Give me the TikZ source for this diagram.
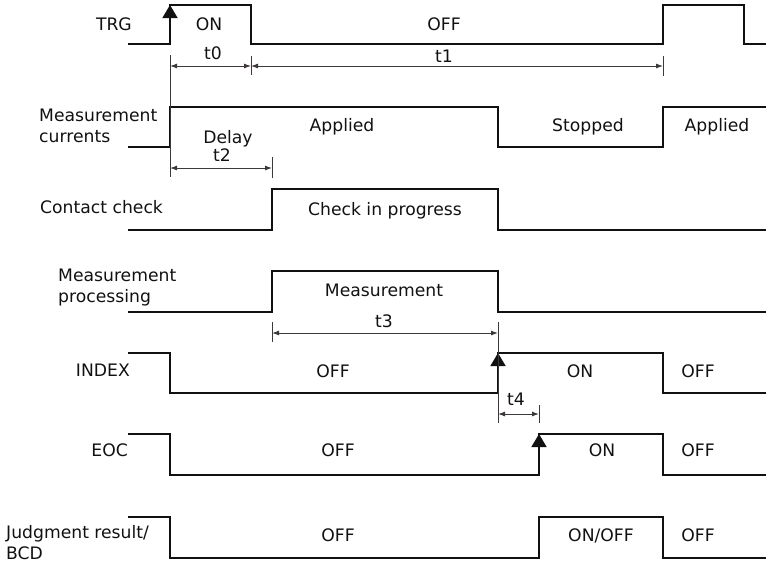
\documentclass[tikz,border=0pt]{standalone}
\usepackage{fontspec}
\setmainfont{DejaVu Sans}
\usetikzlibrary{arrows.meta}
\definecolor{ink}{HTML}{111111}
\definecolor{dimgray}{HTML}{3F3838}
\tikzset{
  >=Latex,
  every node/.style={font=\fontsize{17.2}{21}\selectfont,text=ink,inner sep=0pt},
  signal/.style={line width=1.7pt,draw=ink,line join=miter},
  risearr/.style={line width=1.7pt,draw=ink,-{Triangle[length=13pt,width=15pt]}},
  guide/.style={line width=0.9pt,draw=dimgray},
  dimarr/.style={<->,line width=0.9pt,draw=dimgray,>={Latex[length=7pt,width=5pt]}},
  signame/.style={align=left},
  state/.style={anchor=base},
}

\begin{document}
\begin{tikzpicture}[x=1pt,y=-1pt]
\useasboundingbox (0,0) rectangle (766,563);

% signal names
\node[signame,anchor=base east] (trgname) at (132,30) {TRG};
\node[signame,anchor=west] (curname) at (39,126) {Measurement\\currents};
\node[signame,anchor=base west] (ccname) at (40,213) {Contact check};
\node[signame,anchor=west] (procname) at (58,288) {Measurement\\processing};
\node[signame,anchor=base east] (indexname) at (130,376) {INDEX};
\node[signame,anchor=base east] (eocname) at (128,456) {EOC};
\node[signame,anchor=west] (bcdname) at (6,543) {Judgment result/\\BCD};

% TRG
\draw[signal] (128,44) -- (170,44) -- (170,5) -- (251,5) -- (251,44) -- (663,44) -- (663,5) -- (744,5) -- (744,44) -- (766,44);
\draw[risearr] (170,44) -- (170,5);
\node[state] (trgon) at (209,30) {ON};
\node[state] (trgoff) at (444,30) {OFF};

% measurement currents
\draw[signal] (128,147) -- (170,147) -- (170,107) -- (498,107) -- (498,147) -- (663,147) -- (663,107) -- (766,107);
\node[state] (applied) at (342,131) {Applied};
\node[state] (stopped) at (588,131) {Stopped};
\node[state] (applied2) at (717,131) {Applied};
\node[state] (delay) at (228,143) {Delay};

% contact check
\draw[signal] (128,230) -- (272,230) -- (272,189) -- (498,189) -- (498,230) -- (766,230);
\node[state] (checking) at (385,215) {Check in progress};

% measurement processing
\draw[signal] (128,312) -- (272,312) -- (272,271) -- (498,271) -- (498,312) -- (766,312);
\node[state] (measuring) at (384,296) {Measurement};

% INDEX
\draw[signal] (128,353) -- (170,353) -- (170,393) -- (498,393) -- (498,353) -- (663,353) -- (663,393) -- (766,393);
\draw[risearr] (498,393) -- (498,353);
\node[state] (indexoff) at (333,377) {OFF};
\node[state] (indexon) at (580,377) {ON};
\node[state] (indexoff2) at (698,377) {OFF};

% EOC
\draw[signal] (128,434) -- (170,434) -- (170,475) -- (539,475) -- (539,434) -- (663,434) -- (663,475) -- (766,475);
\draw[risearr] (539,475) -- (539,434);
\node[state] (eocoff) at (338,456) {OFF};
\node[state] (eocon) at (602,456) {ON};
\node[state] (eocoff2) at (698,456) {OFF};

% judgment result / BCD
\draw[signal] (128,517) -- (170,517) -- (170,558) -- (539,558) -- (539,517) -- (663,517) -- (663,558) -- (766,558);
\node[state] (bcdoff) at (338,541) {OFF};
\node[state] (bcdonoff) at (601,541) {ON/OFF};
\node[state] (bcdoff2) at (698,541) {OFF};

% timing marks
\coordinate (t0a) at (170,66);
\coordinate (t0b) at (251,66);
\coordinate (t1b) at (663,66);
\coordinate (t2a) at (170,168);
\coordinate (t2b) at (272,168);
\coordinate (t3a) at (272,333);
\coordinate (t3b) at (498,333);
\coordinate (t4a) at (498,414);
\coordinate (t4b) at (539,414);

\draw[guide] (170,55) -- (170,177);
\draw[guide] (251,56) -- (251,75);
\draw[guide] (663,56) -- (663,76);
\draw[guide] (272,157) -- (272,178);
\draw[guide] (272,322) -- (272,342);
\draw[guide] (498,322) -- (498,423);
\draw[guide] (539,405) -- (539,423);

\draw[dimarr] (t0a) -- (t0b);
\draw[dimarr] (t0b) -- (t1b);
\draw[dimarr] (t2a) -- (t2b);
\draw[dimarr] (t3a) -- (t3b);
\draw[dimarr] (t4a) -- (t4b);

\node[state] (t0lab) at (213,59) {t0};
\node[state] (t1lab) at (444,62) {t1};
\node[state] (t2lab) at (222,161) {t2};
\node[state] (t3lab) at (384,327) {t3};
\node[state] (t4lab) at (516,405) {t4};

\end{tikzpicture}
\end{document}
